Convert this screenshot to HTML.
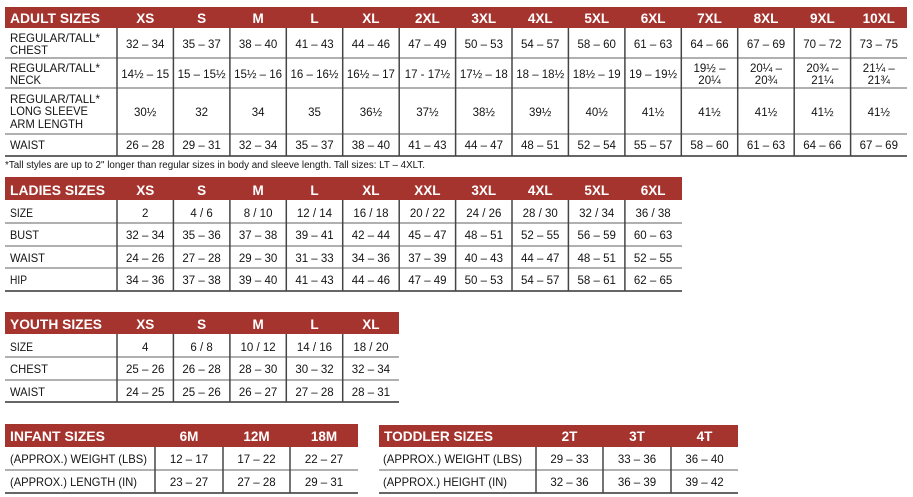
<!DOCTYPE html>
<html><head><meta charset="utf-8"><style>
html,body{margin:0;padding:0;background:#fff;width:913px;height:497px;overflow:hidden}
svg{display:block}
text{font-family:"Liberation Sans",Arial,sans-serif}
.h{fill:#fff;font-weight:bold;font-size:14px}
.hc{fill:#fff;font-weight:bold;font-size:13.5px;text-anchor:middle}
.l{fill:#141414;font-size:12px}
.v{fill:#141414;font-size:11.5px;text-anchor:middle}
.hr{stroke:#808080;stroke-width:1.3}
.vr{stroke:#454545;stroke-width:1.5}
.bt{stroke:#333;stroke-width:1.5}
.bar{fill:#a5342f}
</style></head><body>
<svg width="913" height="497" viewBox="0 0 913 497" xmlns="http://www.w3.org/2000/svg">

<!-- ADULT -->
<rect class="bar" x="5" y="7" width="902" height="21"/>
<text class="h" x="10" y="23" textLength="90" lengthAdjust="spacingAndGlyphs">ADULT SIZES</text>
<text class="hc" x="145.2" y="23">XS</text><text class="hc" x="201.6" y="23">S</text><text class="hc" x="258.1" y="23">M</text><text class="hc" x="314.5" y="23">L</text><text class="hc" x="370.9" y="23">XL</text><text class="hc" x="427.4" y="23">2XL</text><text class="hc" x="483.8" y="23">3XL</text><text class="hc" x="540.2" y="23">4XL</text><text class="hc" x="596.7" y="23">5XL</text><text class="hc" x="653.1" y="23">6XL</text><text class="hc" x="709.5" y="23">7XL</text><text class="hc" x="766" y="23">8XL</text><text class="hc" x="822.4" y="23">9XL</text><text class="hc" x="878.8" y="23">10XL</text>
<text class="l" x="10" y="42" textLength="90" lengthAdjust="spacingAndGlyphs">REGULAR/TALL*</text>
<text class="l" x="10" y="54" textLength="38" lengthAdjust="spacingAndGlyphs">CHEST</text>
<text class="l" x="10" y="72" textLength="90" lengthAdjust="spacingAndGlyphs">REGULAR/TALL*</text>
<text class="l" x="10" y="84" textLength="31" lengthAdjust="spacingAndGlyphs">NECK</text>
<text class="l" x="10" y="103" textLength="90" lengthAdjust="spacingAndGlyphs">REGULAR/TALL*</text>
<text class="l" x="10" y="115" textLength="78" lengthAdjust="spacingAndGlyphs">LONG SLEEVE</text>
<text class="l" x="10" y="128" textLength="73" lengthAdjust="spacingAndGlyphs">ARM LENGTH</text>
<text class="l" x="10" y="149" textLength="35" lengthAdjust="spacingAndGlyphs">WAIST</text>

<text class="v" x="145.2" y="48">32 – 34</text><text class="v" x="201.6" y="48">35 – 37</text><text class="v" x="258.1" y="48">38 – 40</text><text class="v" x="314.5" y="48">41 – 43</text><text class="v" x="370.9" y="48">44 – 46</text><text class="v" x="427.4" y="48">47 – 49</text><text class="v" x="483.8" y="48">50 – 53</text><text class="v" x="540.2" y="48">54 – 57</text><text class="v" x="596.7" y="48">58 – 60</text><text class="v" x="653.1" y="48">61 – 63</text><text class="v" x="709.5" y="48">64 – 66</text><text class="v" x="766" y="48">67 – 69</text><text class="v" x="822.4" y="48">70 – 72</text><text class="v" x="878.8" y="48">73 – 75</text>

<text class="v" x="145.2" y="78">14½ – 15</text><text class="v" x="201.6" y="78">15 – 15½</text><text class="v" x="258.1" y="78">15½ – 16</text><text class="v" x="314.5" y="78">16 – 16½</text><text class="v" x="370.9" y="78">16½ – 17</text><text class="v" x="427.4" y="78">17 - 17½</text><text class="v" x="483.8" y="78">17½ – 18</text><text class="v" x="540.2" y="78">18 – 18½</text><text class="v" x="596.7" y="78">18½ – 19</text><text class="v" x="653.1" y="78">19 – 19½</text>
<text class="v" x="709.5" y="72">19½ –</text><text class="v" x="709.5" y="84">20¼</text>
<text class="v" x="766" y="72">20¼ –</text><text class="v" x="766" y="84">20¾</text>
<text class="v" x="822.4" y="72">20¾ –</text><text class="v" x="822.4" y="84">21¼</text>
<text class="v" x="878.8" y="72">21¼ –</text><text class="v" x="878.8" y="84">21¾</text>

<text class="v" x="145.2" y="116">30½</text><text class="v" x="201.6" y="116">32</text><text class="v" x="258.1" y="116">34</text><text class="v" x="314.5" y="116">35</text><text class="v" x="370.9" y="116">36½</text><text class="v" x="427.4" y="116">37½</text><text class="v" x="483.8" y="116">38½</text><text class="v" x="540.2" y="116">39½</text><text class="v" x="596.7" y="116">40½</text><text class="v" x="653.1" y="116">41½</text><text class="v" x="709.5" y="116">41½</text><text class="v" x="766" y="116">41½</text><text class="v" x="822.4" y="116">41½</text><text class="v" x="878.8" y="116">41½</text>

<text class="v" x="145.2" y="149">26 – 28</text><text class="v" x="201.6" y="149">29 – 31</text><text class="v" x="258.1" y="149">32 – 34</text><text class="v" x="314.5" y="149">35 – 37</text><text class="v" x="370.9" y="149">38 – 40</text><text class="v" x="427.4" y="149">41 – 43</text><text class="v" x="483.8" y="149">44 – 47</text><text class="v" x="540.2" y="149">48 – 51</text><text class="v" x="596.7" y="149">52 – 54</text><text class="v" x="653.1" y="149">55 – 57</text><text class="v" x="709.5" y="149">58 – 60</text><text class="v" x="766" y="149">61 – 63</text><text class="v" x="822.4" y="149">64 – 66</text><text class="v" x="878.8" y="149">67 – 69</text>

<line class="hr" x1="5" y1="58" x2="907" y2="58"/>
<line class="hr" x1="5" y1="88" x2="907" y2="88"/>
<line class="hr" x1="5" y1="134" x2="907" y2="134"/>
<line class="bt" x1="5" y1="156" x2="907" y2="156"/>
<line class="vr" x1="117" y1="28" x2="117" y2="156"/><line class="vr" x1="173.4" y1="28" x2="173.4" y2="156"/><line class="vr" x1="229.9" y1="28" x2="229.9" y2="156"/><line class="vr" x1="286.3" y1="28" x2="286.3" y2="156"/><line class="vr" x1="342.7" y1="28" x2="342.7" y2="156"/><line class="vr" x1="399.2" y1="28" x2="399.2" y2="156"/><line class="vr" x1="455.6" y1="28" x2="455.6" y2="156"/><line class="vr" x1="512" y1="28" x2="512" y2="156"/><line class="vr" x1="568.4" y1="28" x2="568.4" y2="156"/><line class="vr" x1="624.9" y1="28" x2="624.9" y2="156"/><line class="vr" x1="681.3" y1="28" x2="681.3" y2="156"/><line class="vr" x1="737.7" y1="28" x2="737.7" y2="156"/><line class="vr" x1="794.2" y1="28" x2="794.2" y2="156"/><line class="vr" x1="850.6" y1="28" x2="850.6" y2="156"/>
<text x="5" y="168" font-size="10" fill="#141414" textLength="420" lengthAdjust="spacingAndGlyphs">*Tall styles are up to 2" longer than regular sizes in body and sleeve length. Tall sizes: LT – 4XLT.</text>

<!-- LADIES -->
<rect class="bar" x="5" y="177" width="677" height="23"/>
<text class="h" x="10" y="195" textLength="95" lengthAdjust="spacingAndGlyphs">LADIES SIZES</text>
<text class="hc" x="145.2" y="195">XS</text><text class="hc" x="201.6" y="195">S</text><text class="hc" x="258.1" y="195">M</text><text class="hc" x="314.5" y="195">L</text><text class="hc" x="370.9" y="195">XL</text><text class="hc" x="427.4" y="195">XXL</text><text class="hc" x="483.8" y="195">3XL</text><text class="hc" x="540.2" y="195">4XL</text><text class="hc" x="596.7" y="195">5XL</text><text class="hc" x="653.1" y="195">6XL</text>
<text class="l" x="10" y="217" textLength="23" lengthAdjust="spacingAndGlyphs">SIZE</text>
<text class="l" x="10" y="239" textLength="29" lengthAdjust="spacingAndGlyphs">BUST</text>
<text class="l" x="10" y="262" textLength="35" lengthAdjust="spacingAndGlyphs">WAIST</text>
<text class="l" x="10" y="284" textLength="17" lengthAdjust="spacingAndGlyphs">HIP</text>

<text class="v" x="145.2" y="217">2</text><text class="v" x="201.6" y="217">4 / 6</text><text class="v" x="258.1" y="217">8 / 10</text><text class="v" x="314.5" y="217">12 / 14</text><text class="v" x="370.9" y="217">16 / 18</text><text class="v" x="427.4" y="217">20 / 22</text><text class="v" x="483.8" y="217">24 / 26</text><text class="v" x="540.2" y="217">28 / 30</text><text class="v" x="596.7" y="217">32 / 34</text><text class="v" x="653.1" y="217">36 / 38</text>
<text class="v" x="145.2" y="239">32 – 34</text><text class="v" x="201.6" y="239">35 – 36</text><text class="v" x="258.1" y="239">37 – 38</text><text class="v" x="314.5" y="239">39 – 41</text><text class="v" x="370.9" y="239">42 – 44</text><text class="v" x="427.4" y="239">45 – 47</text><text class="v" x="483.8" y="239">48 – 51</text><text class="v" x="540.2" y="239">52 – 55</text><text class="v" x="596.7" y="239">56 – 59</text><text class="v" x="653.1" y="239">60 – 63</text>
<text class="v" x="145.2" y="262">24 – 26</text><text class="v" x="201.6" y="262">27 – 28</text><text class="v" x="258.1" y="262">29 – 30</text><text class="v" x="314.5" y="262">31 – 33</text><text class="v" x="370.9" y="262">34 – 36</text><text class="v" x="427.4" y="262">37 – 39</text><text class="v" x="483.8" y="262">40 – 43</text><text class="v" x="540.2" y="262">44 – 47</text><text class="v" x="596.7" y="262">48 – 51</text><text class="v" x="653.1" y="262">52 – 55</text>
<text class="v" x="145.2" y="284">34 – 36</text><text class="v" x="201.6" y="284">37 – 38</text><text class="v" x="258.1" y="284">39 – 40</text><text class="v" x="314.5" y="284">41 – 43</text><text class="v" x="370.9" y="284">44 – 46</text><text class="v" x="427.4" y="284">47 – 49</text><text class="v" x="483.8" y="284">50 – 53</text><text class="v" x="540.2" y="284">54 – 57</text><text class="v" x="596.7" y="284">58 – 61</text><text class="v" x="653.1" y="284">62 – 65</text>
<line class="hr" x1="5" y1="223" x2="682" y2="223"/>
<line class="hr" x1="5" y1="246" x2="682" y2="246"/>
<line class="hr" x1="5" y1="268" x2="682" y2="268"/>
<line class="bt" x1="5" y1="291" x2="682" y2="291"/>
<line class="vr" x1="117" y1="200" x2="117" y2="291"/><line class="vr" x1="173.4" y1="200" x2="173.4" y2="291"/><line class="vr" x1="229.9" y1="200" x2="229.9" y2="291"/><line class="vr" x1="286.3" y1="200" x2="286.3" y2="291"/><line class="vr" x1="342.7" y1="200" x2="342.7" y2="291"/><line class="vr" x1="399.2" y1="200" x2="399.2" y2="291"/><line class="vr" x1="455.6" y1="200" x2="455.6" y2="291"/><line class="vr" x1="512" y1="200" x2="512" y2="291"/><line class="vr" x1="568.4" y1="200" x2="568.4" y2="291"/><line class="vr" x1="624.9" y1="200" x2="624.9" y2="291"/>

<!-- YOUTH -->
<rect class="bar" x="5" y="312" width="394" height="22"/>
<text class="h" x="10" y="329" textLength="92" lengthAdjust="spacingAndGlyphs">YOUTH SIZES</text>
<text class="hc" x="145.2" y="329">XS</text><text class="hc" x="201.6" y="329">S</text><text class="hc" x="258.1" y="329">M</text><text class="hc" x="314.5" y="329">L</text><text class="hc" x="370.9" y="329">XL</text>
<text class="l" x="10" y="351" textLength="23" lengthAdjust="spacingAndGlyphs">SIZE</text>
<text class="l" x="10" y="373" textLength="38" lengthAdjust="spacingAndGlyphs">CHEST</text>
<text class="l" x="10" y="396" textLength="35" lengthAdjust="spacingAndGlyphs">WAIST</text>
<text class="v" x="145.2" y="351">4</text><text class="v" x="201.6" y="351">6 / 8</text><text class="v" x="258.1" y="351">10 / 12</text><text class="v" x="314.5" y="351">14 / 16</text><text class="v" x="370.9" y="351">18 / 20</text>
<text class="v" x="145.2" y="373">25 – 26</text><text class="v" x="201.6" y="373">26 – 28</text><text class="v" x="258.1" y="373">28 – 30</text><text class="v" x="314.5" y="373">30 – 32</text><text class="v" x="370.9" y="373">32 – 34</text>
<text class="v" x="145.2" y="396">24 – 25</text><text class="v" x="201.6" y="396">25 – 26</text><text class="v" x="258.1" y="396">26 – 27</text><text class="v" x="314.5" y="396">27 – 28</text><text class="v" x="370.9" y="396">28 – 31</text>
<line class="hr" x1="5" y1="357" x2="399" y2="357"/>
<line class="hr" x1="5" y1="380" x2="399" y2="380"/>
<line class="bt" x1="5" y1="402" x2="399" y2="402"/>
<line class="vr" x1="117" y1="334" x2="117" y2="402"/><line class="vr" x1="173.4" y1="334" x2="173.4" y2="402"/><line class="vr" x1="229.9" y1="334" x2="229.9" y2="402"/><line class="vr" x1="286.3" y1="334" x2="286.3" y2="402"/><line class="vr" x1="342.7" y1="334" x2="342.7" y2="402"/>

<!-- INFANT -->
<rect class="bar" x="5" y="424" width="353" height="23"/>
<text class="h" x="10" y="441" textLength="95" lengthAdjust="spacingAndGlyphs">INFANT SIZES</text>
<text class="hc" x="189" y="441">6M</text><text class="hc" x="256.5" y="441">12M</text><text class="hc" x="324" y="441">18M</text>
<text class="l" x="10" y="463" textLength="137" lengthAdjust="spacingAndGlyphs">(APPROX.) WEIGHT (LBS)</text>
<text class="l" x="10" y="486" textLength="127" lengthAdjust="spacingAndGlyphs">(APPROX.) LENGTH (IN)</text>
<text class="v" x="189" y="463">12 – 17</text><text class="v" x="256.5" y="463">17 – 22</text><text class="v" x="324" y="463">22 – 27</text>
<text class="v" x="189" y="486">23 – 27</text><text class="v" x="256.5" y="486">27 – 28</text><text class="v" x="324" y="486">29 – 31</text>
<line class="hr" x1="5" y1="470" x2="358" y2="470"/>
<line class="bt" x1="5" y1="493" x2="358" y2="493"/>
<line class="vr" x1="155" y1="447" x2="155" y2="493"/><line class="vr" x1="223" y1="447" x2="223" y2="493"/><line class="vr" x1="290" y1="447" x2="290" y2="493"/>

<!-- TODDLER -->
<rect class="bar" x="379" y="425" width="359" height="22"/>
<text class="h" x="384" y="441" textLength="109" lengthAdjust="spacingAndGlyphs">TODDLER SIZES</text>
<text class="hc" x="569.5" y="441">2T</text><text class="hc" x="637" y="441">3T</text><text class="hc" x="704.5" y="441">4T</text>
<text class="l" x="383" y="463" textLength="139" lengthAdjust="spacingAndGlyphs">(APPROX.) WEIGHT (LBS)</text>
<text class="l" x="383" y="486" textLength="124" lengthAdjust="spacingAndGlyphs">(APPROX.) HEIGHT (IN)</text>
<text class="v" x="569.5" y="463">29 – 33</text><text class="v" x="637" y="463">33 – 36</text><text class="v" x="704.5" y="463">36 – 40</text>
<text class="v" x="569.5" y="486">32 – 36</text><text class="v" x="637" y="486">36 – 39</text><text class="v" x="704.5" y="486">39 – 42</text>
<line class="hr" x1="379" y1="470" x2="738" y2="470"/>
<line class="bt" x1="379" y1="493" x2="738" y2="493"/>
<line class="vr" x1="536" y1="447" x2="536" y2="493"/><line class="vr" x1="603" y1="447" x2="603" y2="493"/><line class="vr" x1="671" y1="447" x2="671" y2="493"/>
</svg>
</body></html>
